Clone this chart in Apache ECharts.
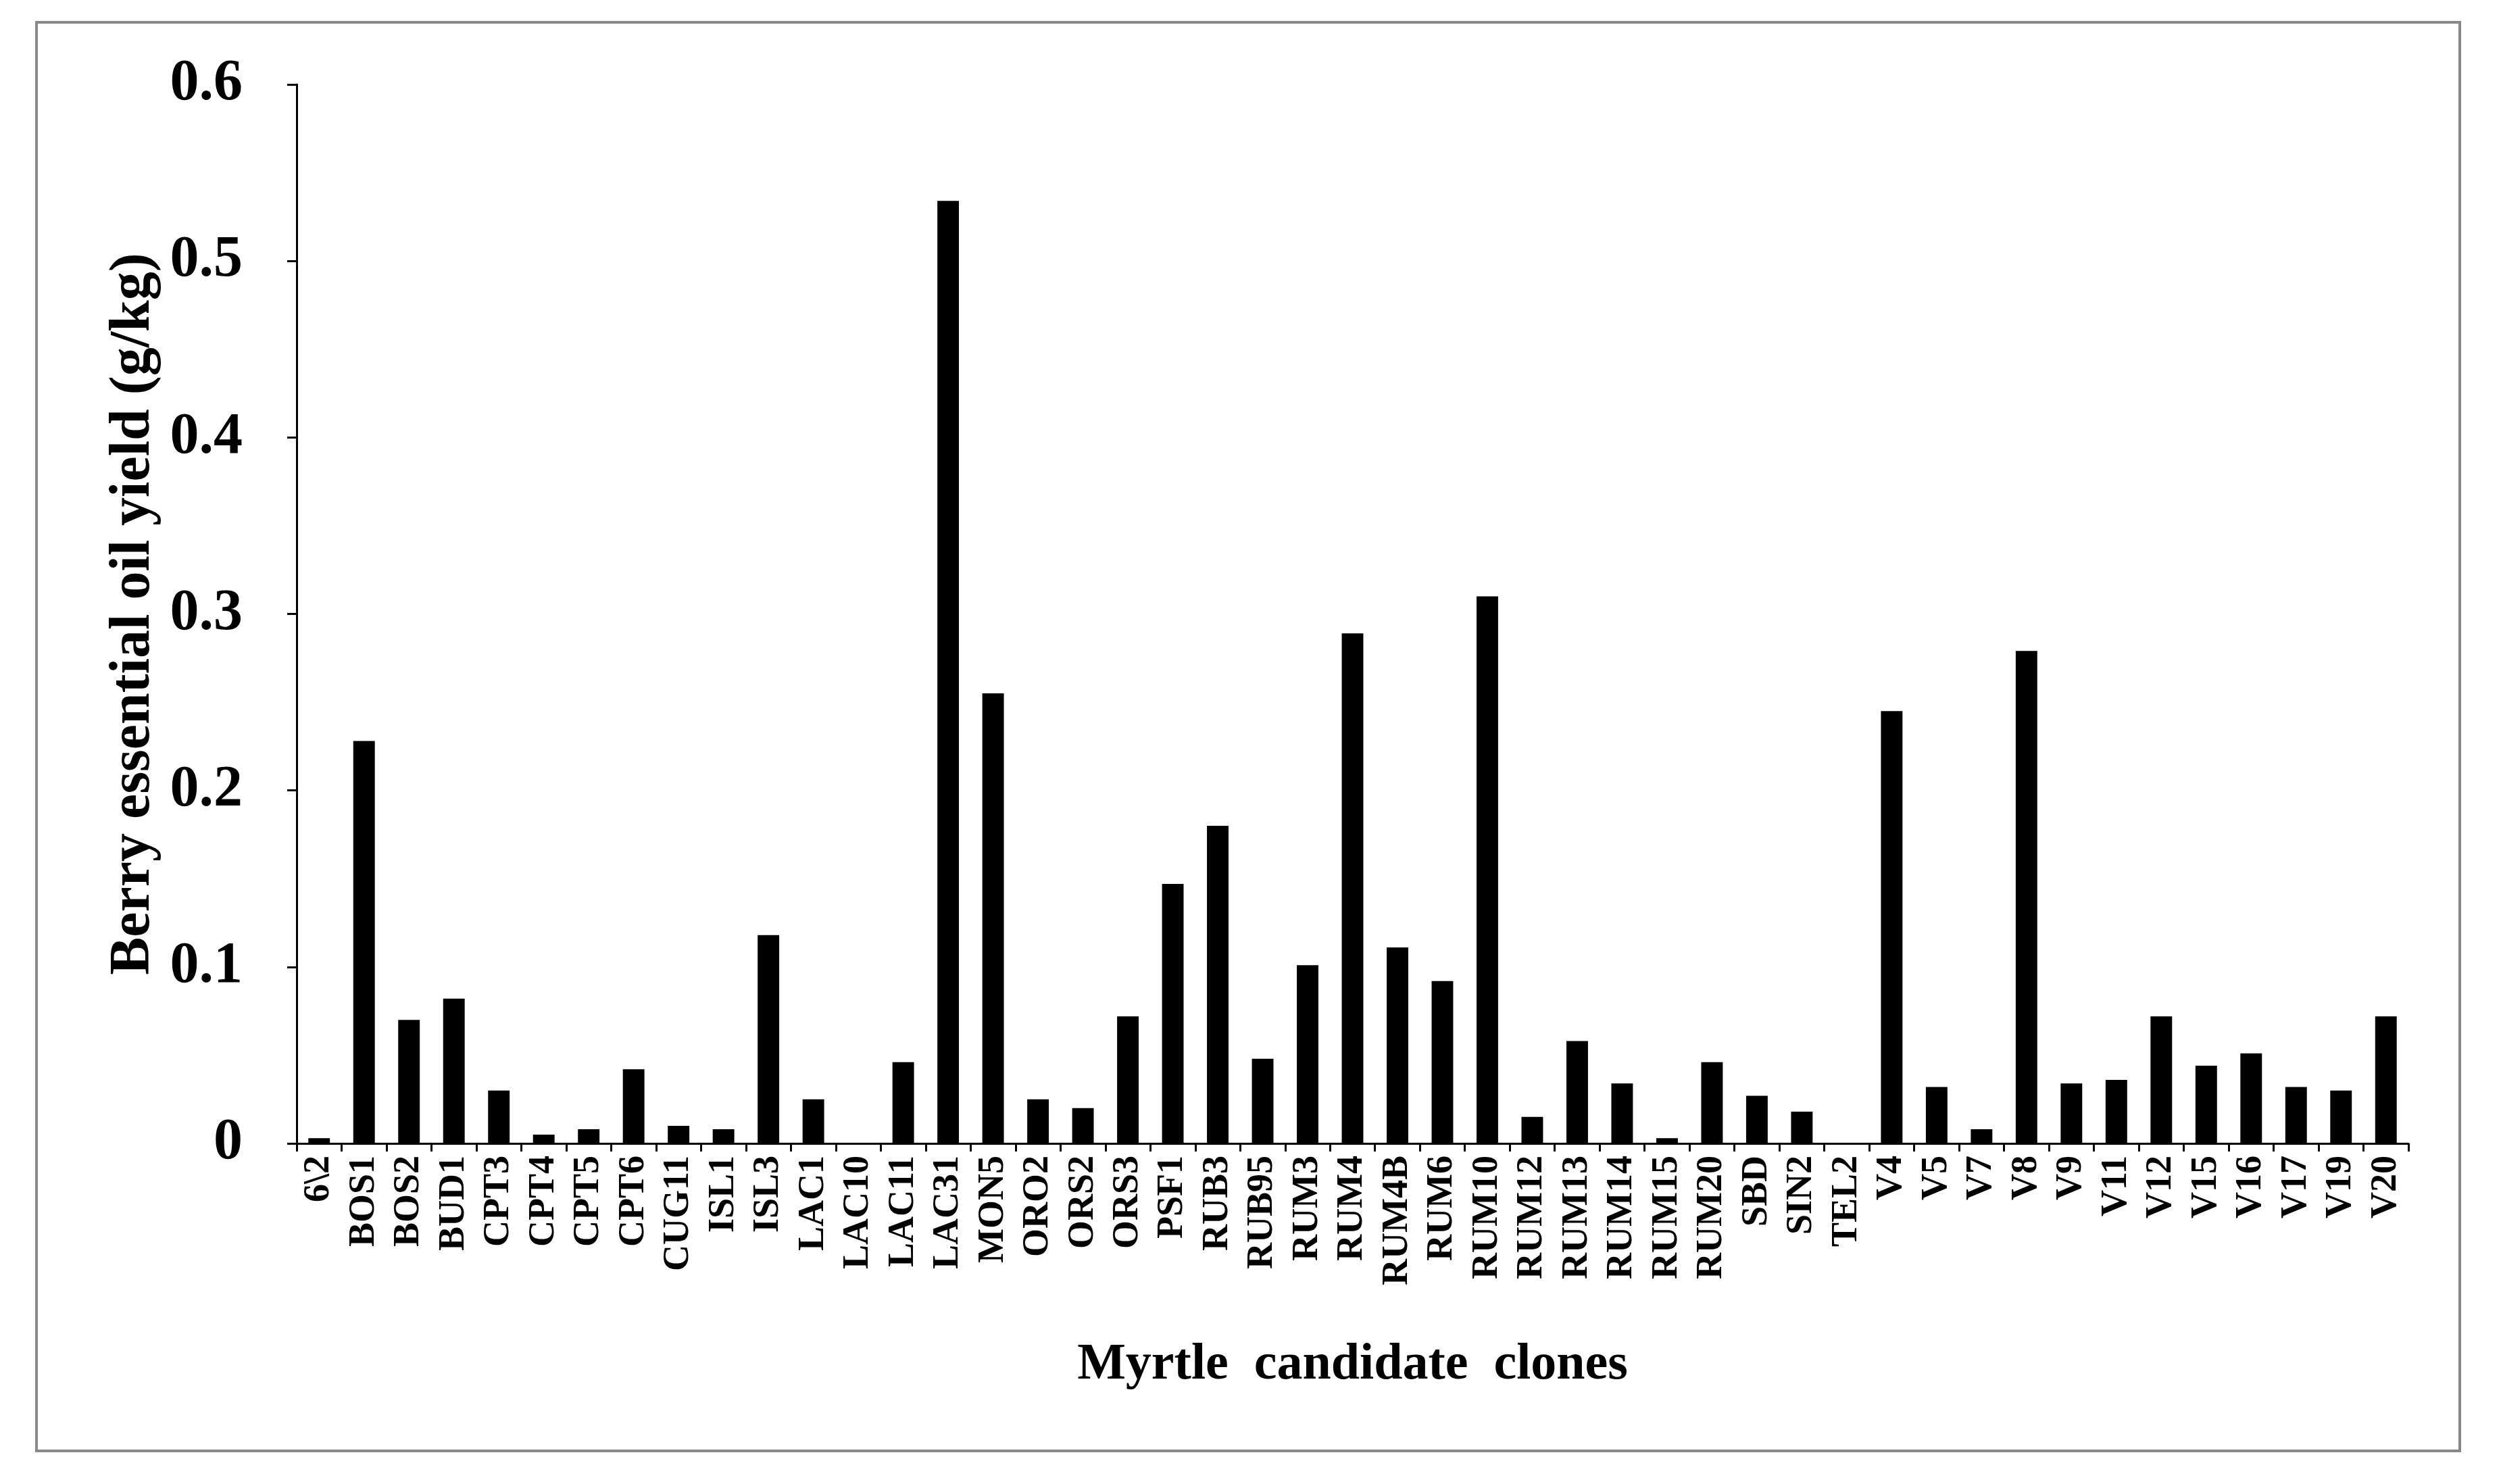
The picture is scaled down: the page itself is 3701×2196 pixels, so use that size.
<!DOCTYPE html>
<html>
<head>
<meta charset="utf-8">
<script src="https://cdn.jsdelivr.net/npm/echarts@6/dist/echarts.min.js"></script>
<style>body{margin:0;background:#fff}#box{position:absolute;left:52px;top:31px;width:3590px;height:2118px;border:4px solid #888;box-sizing:border-box}</style>
</head>
<body>
<div id="box"></div>
<div id="main" style="width:3701px;height:2196px;"></div>
<script>
var clones = ['6\\2','BOS1','BOS2','BUD1','CPT3','CPT4','CPT5','CPT6','CUG11','ISL1','ISL3','LAC1','LAC10','LAC11','LAC31','MON5','ORO2','ORS2','ORS3','PSF1','RUB3','RUB95','RUM3','RUM4','RUM4B','RUM6','RUM10','RUM12','RUM13','RUM14','RUM15','RUM20','SBD','SIN2','TEL2','V4','V5','V7','V8','V9','V11','V12','V15','V16','V17','V19','V20'];
var oilYield = [0.003,0.228,0.07,0.082,0.03,0.005,0.008,0.042,0.01,0.008,0.118,0.025,0,0.046,0.534,0.255,0.025,0.02,0.072,0.147,0.18,0.048,0.101,0.289,0.111,0.092,0.31,0.015,0.058,0.034,0.003,0.046,0.027,0.018,0,0.245,0.032,0.008,0.279,0.034,0.036,0.072,0.044,0.051,0.032,0.03,0.072];
var font = 'Liberation Serif';
var chart = echarts.init(document.getElementById('main'));
chart.setOption({
  grid: {left: 439, right: 137, top: 125, bottom: 504},
  xAxis: {
    type: 'category', data: clones,
    name: 'Myrtle  candidate  clones', nameLocation: 'middle', nameGap: 290,
    nameTextStyle: {fontFamily: font, fontWeight: 'bold', fontSize: 76, color: '#000'},
    axisLine: {lineStyle: {color: '#000', width: 3}},
    axisTick: {show: true, length: 12, lineStyle: {color: '#000', width: 3}},
    axisLabel: {interval: 0, rotate: 90, fontFamily: font, fontWeight: 'bold', fontSize: 54, color: '#000', margin: 18}
  },
  yAxis: {
    type: 'value', min: 0, max: 0.6, interval: 0.1,
    name: 'Berry essential oil yield (g/kg)', nameLocation: 'middle', nameGap: 190,
    nameTextStyle: {fontFamily: font, fontWeight: 'bold', fontSize: 84, color: '#000'},
    axisLine: {show: true, lineStyle: {color: '#000', width: 3}},
    axisTick: {show: true, length: 14, lineStyle: {color: '#000', width: 3}},
    splitLine: {show: false},
    axisLabel: {fontFamily: font, fontWeight: 'bold', fontSize: 86, color: '#000', margin: 80,
      formatter: function (v) { return v === 0 ? '0' : v.toFixed(1); }}
  },
  series: [{type: 'bar', data: oilYield, barWidth: '48%', itemStyle: {color: '#000'}}]
});
</script>
</body>
</html>
